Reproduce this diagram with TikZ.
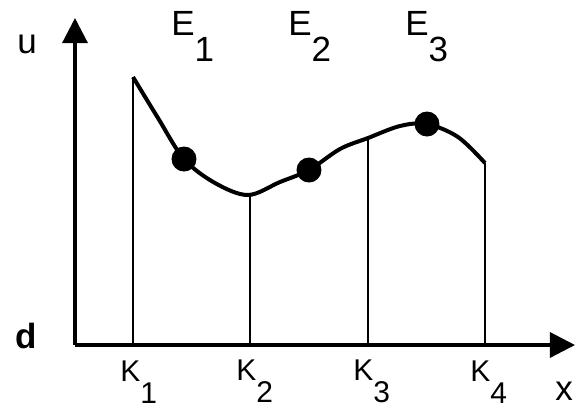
\documentclass[tikz,border=0pt]{standalone}
\usepackage{fontspec}
\setmainfont{Liberation Sans}
\usetikzlibrary{arrows.meta}
\newcommand{\lowsub}[1]{\raisebox{-0.75em}{#1}}

\begin{document}
\begin{tikzpicture}[x=0.5pt, y=-0.5pt,
    axis/.style={line width=1.6pt, -{Triangle[length=12.5pt, width=12.5pt]}},
    knot/.style={line width=1.4pt},
    spline/.style={line width=2pt, line join=round},
    dot/.style={circle, fill=black, inner sep=0pt, minimum size=12.5pt},
    elabel/.style={inner sep=0pt, anchor=base west, font=\fontsize{17.5}{19}\selectfont},
    klabel/.style={inner sep=0pt, anchor=base west, font=\fontsize{15}{17}\selectfont}
]
    \useasboundingbox (0,0) rectangle (575,409);

    % Axes
    \coordinate (o) at (75,345);
    \coordinate (utip) at (75,18);
    \coordinate (xtip) at (575,345);
    \draw[axis] (o) -- (utip);
    \draw[axis] (o) -- (xtip);

    % Knots
    \coordinate (k1) at (133,345); \coordinate (t1) at (133,77);
    \coordinate (k2) at (250,345); \coordinate (t2) at (250,195);
    \coordinate (k3) at (368,345); \coordinate (t3) at (368,138);
    \coordinate (k4) at (485,345); \coordinate (t4) at (485,163);
    \draw[knot] (k1) -- (t1);
    \draw[knot] (k2) -- (t2);
    \draw[knot] (k3) -- (t3);
    \draw[knot] (k4) -- (t4);

    % Curve
    \draw[spline] plot[smooth, tension=0.55] coordinates {(133,77) (158,118) (184,159) (215,183) (248,195) (280,182) (309,170) (340,149) (368,138) (400,126) (427,124) (458,137) (485,163)};

    % Elements
    \node[dot] (e1) at (184,159) {};
    \node[dot] (e2) at (309,170) {};
    \node[dot] (e3) at (427,124) {};

    % Labels
    \node[elabel] (le1) at (171,35) {E\lowsub{1}};
    \node[elabel] (le2) at (288,35) {E\lowsub{2}};
    \node[elabel] (le3) at (405,35) {E\lowsub{3}};
    \node[klabel] (lk1) at (120,381) {K\lowsub{1}};
    \node[klabel] (lk2) at (236,380) {K\lowsub{2}};
    \node[klabel] (lk3) at (353,380) {K\lowsub{3}};
    \node[klabel] (lk4) at (470,381) {K\lowsub{4}};
    \node[elabel] (lu) at (17,53) {u};
    \node[elabel, font=\fontsize{17.5}{19}\selectfont\bfseries] (ld) at (15,348) {d};
    \node[elabel] (lx) at (555,400) {x};
\end{tikzpicture}
\end{document}
